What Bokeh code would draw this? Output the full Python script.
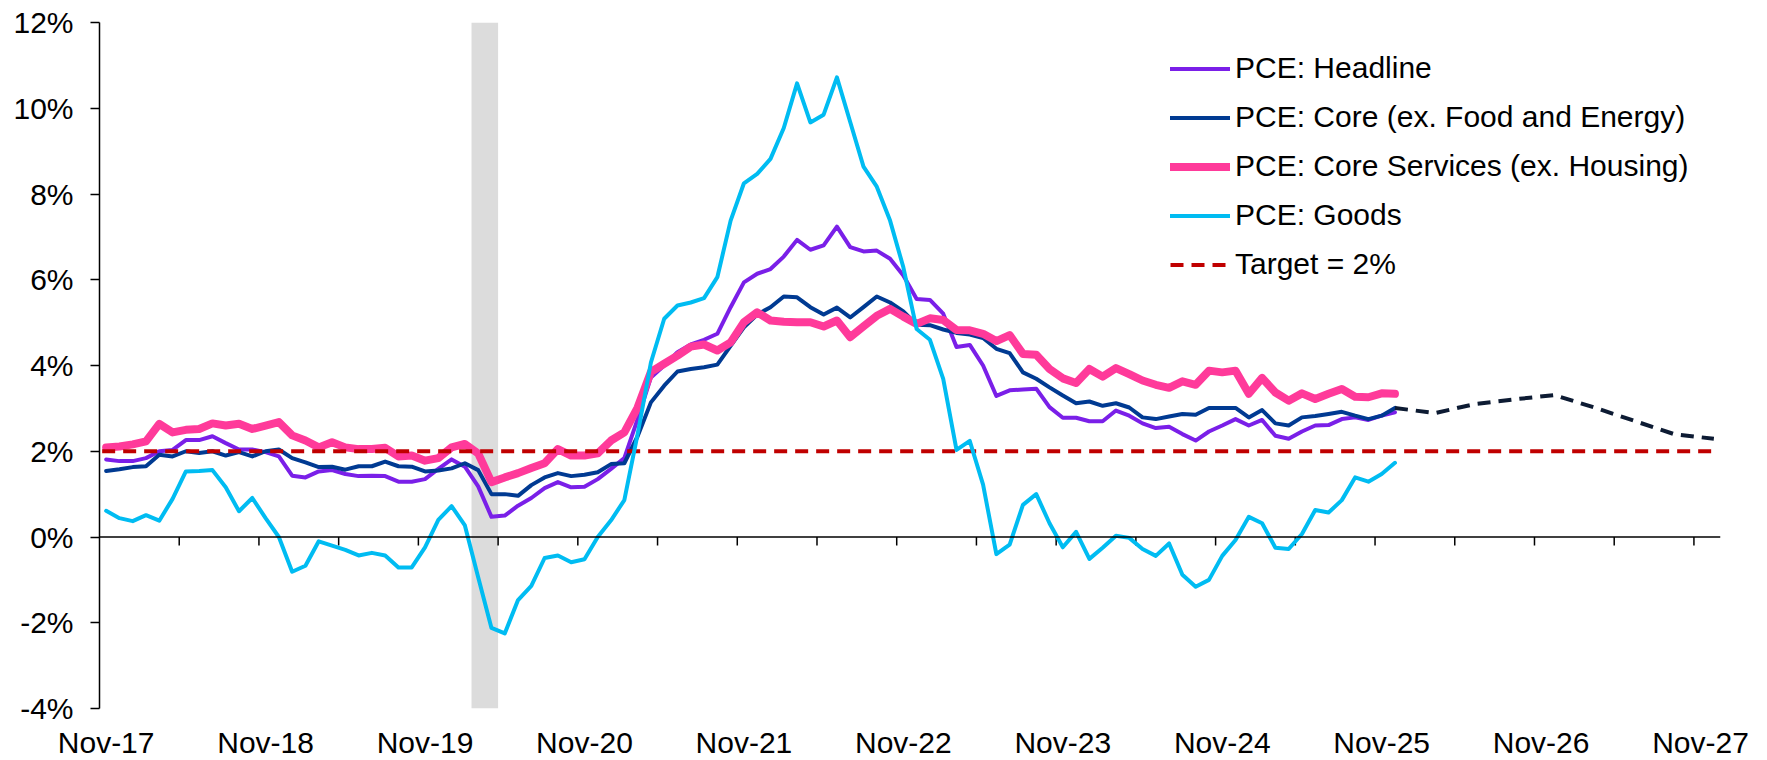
import pandas as pd
from bokeh.plotting import figure
from bokeh.models import (Range1d, FixedTicker, Legend, LegendItem, BoxAnnotation, Span)
from bokeh.embed import file_html
from bokeh.resources import INLINE

# ---------------- data ----------------
months = [d.strftime("%b-%y") for d in pd.date_range("2017-11-01", "2027-12-01", freq="MS")]
x_labels = ["Nov-17", "Nov-18", "Nov-19", "Nov-20", "Nov-21", "Nov-22",
            "Nov-23", "Nov-24", "Nov-25", "Nov-26", "Nov-27"]
y_ticks = [-4, -2, 0, 2, 4, 6, 8, 10, 12]

headline = [1.81, 1.77, 1.77, 1.84, 2.00, 2.03, 2.26, 2.26, 2.35, 2.19, 2.04, 2.04,
            1.98, 1.88, 1.43, 1.39, 1.53, 1.56, 1.47, 1.42, 1.43, 1.42, 1.29, 1.29,
            1.35, 1.59, 1.81, 1.64, 1.18, 0.47, 0.50, 0.73, 0.91, 1.14, 1.28, 1.16,
            1.17, 1.35, 1.59, 1.84, 2.75, 3.72, 4.00, 4.31, 4.49, 4.60, 4.74, 5.36,
            5.94, 6.14, 6.25, 6.54, 6.93, 6.70, 6.80, 7.24, 6.76, 6.66, 6.68, 6.49,
            6.10, 5.55, 5.53, 5.21, 4.43, 4.48, 4.00, 3.29, 3.42, 3.44, 3.46, 3.03,
            2.78, 2.78, 2.70, 2.70, 2.95, 2.83, 2.65, 2.54, 2.57, 2.40, 2.25, 2.46,
            2.60, 2.75, 2.60, 2.73, 2.36, 2.29, 2.46, 2.60, 2.61, 2.75, 2.79, 2.73,
            2.83, 2.91]
core = [1.54, 1.58, 1.63, 1.65, 1.92, 1.88, 2.00, 1.96, 2.00, 1.90, 1.98, 1.88,
        2.00, 2.04, 1.84, 1.74, 1.63, 1.64, 1.57, 1.65, 1.65, 1.76, 1.65, 1.64,
        1.53, 1.55, 1.60, 1.72, 1.56, 1.00, 1.00, 0.96, 1.21, 1.39, 1.49, 1.42,
        1.45, 1.51, 1.70, 1.72, 2.35, 3.14, 3.53, 3.86, 3.92, 3.96, 4.02, 4.46,
        4.89, 5.19, 5.36, 5.61, 5.59, 5.36, 5.19, 5.35, 5.12, 5.36, 5.61, 5.47,
        5.26, 4.95, 4.94, 4.84, 4.76, 4.72, 4.64, 4.39, 4.29, 3.84, 3.69, 3.49,
        3.30, 3.12, 3.16, 3.06, 3.12, 3.02, 2.79, 2.75, 2.81, 2.87, 2.85, 3.01,
        3.01, 3.01, 2.79, 2.96, 2.65, 2.60, 2.79, 2.82, 2.87, 2.92, 2.83, 2.75,
        2.83, 3.01]
core_services = [2.09, 2.11, 2.16, 2.23, 2.64, 2.44, 2.50, 2.52, 2.65, 2.60, 2.64, 2.52,
                 2.60, 2.68, 2.37, 2.25, 2.09, 2.21, 2.09, 2.05, 2.05, 2.08, 1.88, 1.90,
                 1.78, 1.84, 2.09, 2.17, 1.95, 1.28, 1.39, 1.49, 1.61, 1.72, 2.05, 1.90,
                 1.90, 1.95, 2.25, 2.44, 3.02, 3.85, 4.04, 4.23, 4.44, 4.49, 4.35, 4.54,
                 5.01, 5.24, 5.05, 5.02, 5.01, 5.01, 4.91, 5.05, 4.66, 4.91, 5.16, 5.32,
                 5.14, 4.97, 5.10, 5.06, 4.83, 4.82, 4.74, 4.57, 4.71, 4.27, 4.25, 3.92,
                 3.70, 3.59, 3.92, 3.74, 3.94, 3.80, 3.65, 3.55, 3.48, 3.63, 3.55, 3.88,
                 3.84, 3.88, 3.34, 3.71, 3.37, 3.18, 3.35, 3.22, 3.34, 3.45, 3.27, 3.26,
                 3.35, 3.34]
goods = [0.61, 0.44, 0.37, 0.51, 0.38, 0.89, 1.53, 1.54, 1.56, 1.16, 0.60, 0.91,
         0.44, 0.00, -0.81, -0.67, -0.10, -0.20, -0.30, -0.43, -0.37, -0.43, -0.71, -0.71,
         -0.24, 0.40, 0.72, 0.27, -0.94, -2.12, -2.25, -1.47, -1.14, -0.49, -0.43, -0.59,
         -0.52, 0.00, 0.39, 0.86, 2.40, 4.07, 5.09, 5.40, 5.47, 5.57, 6.06, 7.38,
         8.25, 8.47, 8.82, 9.54, 10.58, 9.67, 9.85, 10.72, 9.68, 8.64, 8.17, 7.38,
         6.29, 4.85, 4.60, 3.69, 2.03, 2.24, 1.22, -0.40, -0.18, 0.75, 1.00, 0.32,
         -0.24, 0.12, -0.51, -0.25, 0.03, -0.02, -0.28, -0.44, -0.15, -0.88, -1.16, -1.00,
         -0.44, -0.07, 0.47, 0.32, -0.25, -0.28, 0.07, 0.63, 0.57, 0.86, 1.39, 1.29,
         1.47, 1.73]
forecast_months = ["Dec-25", "Mar-26", "Jun-26", "Sep-26", "Dec-26", "Mar-27", "Jun-27", "Sep-27", "Dec-27"]
forecast_core = [3.01, 2.89, 3.10, 3.21, 3.31, 3.02, 2.71, 2.40, 2.29]
recession_months = ["Mar-20", "Apr-20"]
target = 2.0

# ---------------- styles ----------------
FONT = "Liberation Sans"
FS = "30px"
C_HEAD = "#7A1FE8"
C_CORE = "#003A92"
C_SERV = "#FF3A9A"
C_GOODS = "#00BCF2"
C_TARGET = "#C00000"
C_FCST = "#0D1B33"

idx = {m: i for i, m in enumerate(months)}
n_act = len(headline)
xs = list(range(n_act))

p = figure(frame_width=1621, frame_height=686, min_border_left=99, min_border_right=46,
           min_border_top=22, min_border_bottom=0,
           x_range=Range1d(-0.5, len(months) - 0.5), y_range=Range1d(y_ticks[0], y_ticks[-1]),
           output_backend="svg", toolbar_location=None, tools="")
p.outline_line_color = None
p.xgrid.grid_line_color = None
p.ygrid.grid_line_color = None
p.background_fill_color = "white"

# recession shading
rec_idx = [idx[m] for m in recession_months]
p.add_layout(BoxAnnotation(left=min(rec_idx) - 0.5, right=max(rec_idx) + 0.5,
                           fill_color="#DCDCDC", fill_alpha=1.0, line_color=None, level="underlay"))

# zero axis line with ticks every 6 months
p.add_layout(Span(location=0, dimension="width", line_color="black", line_width=1.5))
tick_x = [k - 0.5 for k in range(6, len(months) + 1, 6)]
p.segment(x0=tick_x, x1=tick_x, y0=[0] * len(tick_x), y1=[-0.2] * len(tick_x),
          line_color="black", line_width=1.5)

r_head = p.line(xs, headline, line_color=C_HEAD, line_width=4, line_join="round", line_cap="round")
r_core = p.line(xs, core, line_color=C_CORE, line_width=4, line_join="round", line_cap="round")
r_fc = p.line([idx[m] for m in forecast_months], forecast_core, line_color=C_FCST, line_width=4,
              line_dash="13 8", line_join="round")
r_serv = p.line(xs, core_services, line_color=C_SERV, line_width=8, line_join="round", line_cap="round")
r_tgt = p.line([-0.3, len(months) - 0.7], [target, target], line_color=C_TARGET, line_width=4,
               line_dash="13 8")
r_goods = p.line(xs, goods, line_color=C_GOODS, line_width=4, line_join="round", line_cap="round")

# axes
yax = p.yaxis[0]
yax.ticker = FixedTicker(ticks=y_ticks, minor_ticks=[])
yax.major_label_overrides = {t: f"{t}%" for t in y_ticks}
yax.axis_line_color = "black"
yax.axis_line_width = 1.5
yax.major_tick_line_color = "black"
yax.major_tick_line_width = 1.5
yax.major_tick_out = 9
yax.major_tick_in = 0
yax.minor_tick_line_color = None
yax.major_label_standoff = 17
yax.major_label_text_font = FONT
yax.major_label_text_font_size = FS
yax.major_label_text_color = "black"

xax = p.xaxis[0]
xt = [idx[m] for m in x_labels]
xax.ticker = FixedTicker(ticks=xt, minor_ticks=[])
xax.major_label_overrides = {i: m for i, m in zip(xt, x_labels)}
xax.axis_line_color = None
xax.major_tick_line_color = None
xax.minor_tick_line_color = None
xax.major_tick_out = 0
xax.major_tick_in = 0
xax.major_label_standoff = 17
xax.major_label_text_font = FONT
xax.major_label_text_font_size = FS
xax.major_label_text_color = "black"

legend = Legend(items=[
    LegendItem(label="PCE: Headline", renderers=[r_head]),
    LegendItem(label="PCE: Core (ex. Food and Energy)", renderers=[r_core]),
    LegendItem(label="PCE: Core Services (ex. Housing)", renderers=[r_serv]),
    LegendItem(label="PCE: Goods", renderers=[r_goods]),
    LegendItem(label="Target = 2%", renderers=[r_tgt]),
], location=(1071, 427), padding=0, margin=0, spacing=15, glyph_width=60, glyph_height=29,
    label_height=29, label_standoff=5, border_line_color=None, background_fill_alpha=0,
    label_text_font=FONT, label_text_font_size=FS, label_text_color="black")
p.add_layout(legend)

open("out.html", "w").write(file_html(p, INLINE))
